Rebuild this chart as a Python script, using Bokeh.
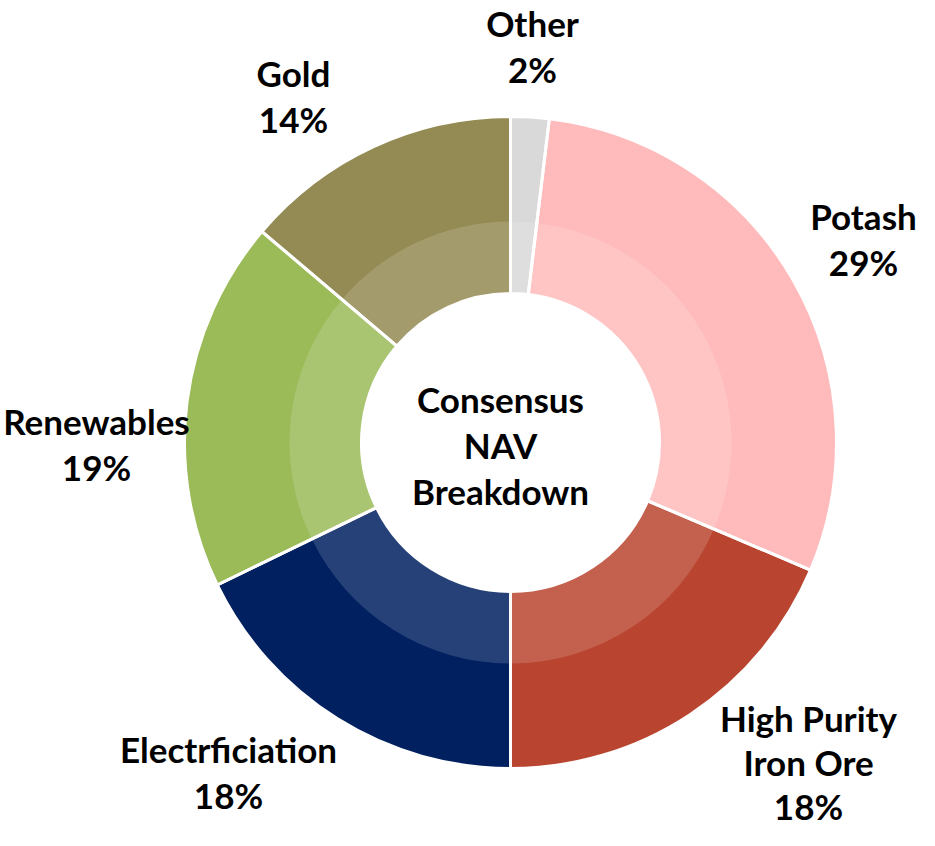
import math
from bokeh.plotting import figure
from bokeh.models import Range1d
from bokeh.core.properties import value
from bokeh.embed import file_html
from bokeh.resources import INLINE

# ---- data ----
categories = ["Other", "Potash", "High Purity\nIron Ore", "Electrficiation", "Renewables", "Gold"]
shares = [1.9, 29.5, 18.6, 17.8, 18.4, 13.8]
pct_labels = ["2%", "29%", "18%", "18%", "19%", "14%"]
colors = ["#D9D9D9", "#FFBBBB", "#B94530", "#002060", "#9BBB59", "#948A54"]
center_title = ["Consensus", "NAV", "Breakdown"]

# ---- layout (picture pixel coordinates) ----
W, H = 919, 830
CX, CY = 510, 442           # centre of donut
R_OUT, R_IN, R_BAND = 326, 149, 221
label_pos = [(532, 45), (863, 238), (808, 761), (228, 771), (96, 443), (293, 95)]
LINE_GAP = 46
FONT = "Lato"
FS = "35px"


def py(y):
    """picture y (top-down) -> data y"""
    return H - y


p = figure(width=W, height=H, output_backend="svg", toolbar_location=None,
           x_range=Range1d(0, W), y_range=Range1d(0, H),
           min_border=0, outline_line_color=None)
p.axis.visible = False
p.grid.visible = False
p.background_fill_color = "white"
p.border_fill_color = "white"

total = sum(shares)
cum = 0.0
starts, ends = [], []
for s in shares:
    a0 = 90 - cum / total * 360
    cum += s
    a1 = 90 - cum / total * 360
    starts.append(math.radians(a0))
    ends.append(math.radians(a1))

n = len(shares)
p.annular_wedge(x=[CX] * n, y=[py(CY)] * n, inner_radius=R_IN, outer_radius=R_OUT,
                start_angle=starts, end_angle=ends, direction="clock",
                fill_color=colors, line_color=None)
# lighter inner band
p.annular_wedge(x=[CX] * n, y=[py(CY)] * n, inner_radius=R_IN, outer_radius=R_BAND,
                start_angle=starts, end_angle=ends, direction="clock",
                fill_color="white", fill_alpha=0.15, line_color=None)
# white separators
p.annular_wedge(x=[CX] * n, y=[py(CY)] * n, inner_radius=R_IN, outer_radius=R_OUT,
                start_angle=starts, end_angle=ends, direction="clock",
                fill_color=None, line_color="white", line_width=3)

# slice labels
xs, ys, ts = [], [], []
for cat, pct, (lx, ly) in zip(categories, pct_labels, label_pos):
    lines = cat.split("\n") + [pct]
    k = len(lines)
    gap = LINE_GAP if k < 3 else 44
    for i, t in enumerate(lines):
        xs.append(lx)
        ys.append(py(ly + (i - (k - 1) / 2) * gap))
        ts.append(t)
p.text(x=xs, y=ys, text=ts, text_align="center", text_baseline="middle",
       text_font=value(FONT), text_font_style="bold", text_font_size=FS,
       text_color="black")

# centre title
k = len(center_title)
p.text(x=[500] * k, y=[py(444 + (i - (k - 1) / 2) * LINE_GAP) for i in range(k)],
       text=center_title, text_align="center", text_baseline="middle",
       text_font=value(FONT), text_font_style="bold", text_font_size=FS,
       text_color="black")

open("out.html", "w").write(file_html(p, INLINE))
